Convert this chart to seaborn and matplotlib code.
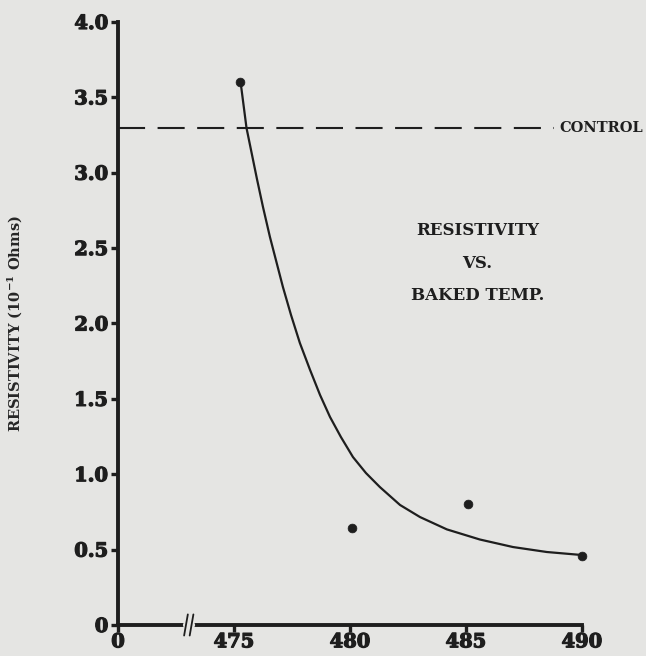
import numpy as np
import pandas as pd
from matplotlib import pyplot as plt
from matplotlib import patheffects
import seaborn as sns

# measured points
temps = [475.25, 480.1, 485.1, 490.0]
resist = [3.60, 0.64, 0.80, 0.46]

# hand-drawn trend curve
curve_x = [475.29, 475.54, 475.99, 476.25, 476.55,
           477.11, 477.46, 477.84, 478.28, 478.71, 479.14, 479.61, 480.13,
           480.69, 481.29, 482.16, 483.02, 484.18, 485.60, 487.03, 488.49,
           490.00]
curve_y = [3.595, 3.297, 2.959, 2.773, 2.574,
           2.242, 2.056, 1.871, 1.692, 1.526, 1.380, 1.247, 1.114,
           1.008, 0.915, 0.796, 0.716, 0.634, 0.567, 0.517, 0.484,
           0.464]

control = 3.3
x_ticks = [470, 475, 480, 485, 490]
x_tick_labels = ["0", "475", "480", "485", "490"]
y_ticks = [0, 0.5, 1.0, 1.5, 2.0, 2.5, 3.0, 3.5, 4.0]
y_tick_labels = ["0", "0.5", "1.0", "1.5", "2.0", "2.5", "3.0", "3.5", "4.0"]
break_at = 473.05

bg = "#e5e5e3"
ink = "#1e1e1e"

sns.set_style("ticks")
plt.rcParams["font.family"] = ["DejaVu Serif", "DejaVu Sans"]
plt.rcParams["font.weight"] = "bold"
plt.rcParams["mathtext.fontset"] = "dejavuserif"

heavy = [patheffects.withStroke(linewidth=0.9, foreground=ink)]

fig = plt.figure(figsize=(6.46, 6.56), dpi=100)
fig.patch.set_facecolor(bg)
ax = fig.add_axes([0.1827, 0.0473, 0.718, 0.9192])
ax.set_facecolor(bg)

df_pts = pd.DataFrame({"temp": temps, "res": resist})
df_curve = pd.DataFrame({"temp": curve_x, "res": curve_y})

sns.lineplot(data=df_curve, x="temp", y="res", sort=False, color=ink,
             linewidth=1.6, ax=ax)
sns.scatterplot(data=df_pts, x="temp", y="res", color=ink, s=40,
                edgecolor=ink, ax=ax, zorder=5, clip_on=False)

# control level
ax.plot([470, 488.8], [control, control], color=ink, linewidth=1.5,
        dashes=(13, 6))
ax.text(489.05, control, "CONTROL", fontsize=10.5, fontweight="bold",
        va="center", ha="left", color=ink, clip_on=False)

ax.text(485.5, 2.4, "RESISTIVITY\nVS.\nBAKED TEMP.", fontsize=12,
        fontweight="bold", ha="center", va="center", color=ink,
        linespacing=2.2)

ax.set_xlim(470, 490)
ax.set_ylim(0, 4.0)
ax.set_xticks(x_ticks)
ax.set_xticklabels(x_tick_labels)
ax.set_yticks(y_ticks)
ax.set_yticklabels(y_tick_labels)
ax.set_xlabel(None)
ax.set_ylabel("RESISTIVITY (10$^{-1}$ Ohms)", fontsize=10.5,
              fontweight="bold", labelpad=36)

for side in ["top", "right"]:
    ax.spines[side].set_visible(False)
for side in ["left", "bottom"]:
    ax.spines[side].set_linewidth(2.8)
    ax.spines[side].set_color(ink)
ax.tick_params(axis="both", length=5, width=2.4, color=ink, labelsize=14,
               labelcolor=ink)
ax.tick_params(axis="x", pad=1)
ax.tick_params(axis="y", pad=2)
for lab in ax.get_xticklabels() + ax.get_yticklabels():
    lab.set_fontweight("bold")
    lab.set_path_effects(heavy)

# axis break marks on the x axis
ax.plot([break_at - 0.12, break_at + 0.12], [0, 0], color=bg, linewidth=4.5,
        clip_on=False, zorder=6)
for dx in (-0.12, 0.12):
    ax.plot([break_at + dx - 0.08, break_at + dx + 0.08], [-0.07, 0.07],
            color=ink, linewidth=1.3, clip_on=False, zorder=7)

plt.savefig("out.png", dpi=100, facecolor=bg)
